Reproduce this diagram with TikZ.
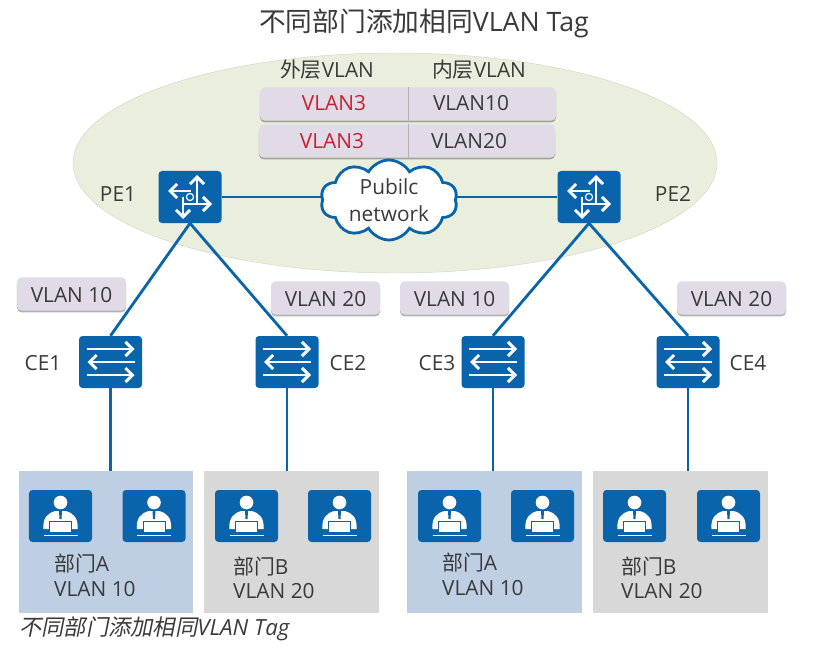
\documentclass[tikz,border=0pt]{standalone}
\usepackage{fontspec}
\usetikzlibrary{shapes.symbols,shadows,arrows.meta}
\setmainfont{Open Sans}
\newfontfamily\cjk{Noto Sans CJK SC}
\newfontfamily\cjkslant[FakeSlant=0.2]{Noto Sans CJK SC}
\definecolor{netblue}{HTML}{0A64AC}
\definecolor{txtgrey}{HTML}{3A3A3A}
\definecolor{tagpurple}{HTML}{E1DBE8}
\definecolor{vlanred}{HTML}{C8202F}
\definecolor{areagreen}{HTML}{EAEFDD}
\definecolor{deptblue}{HTML}{BFCFE3}
\definecolor{deptgrey}{HTML}{D8D8D8}
\tikzset{
    devbox/.style={fill=netblue, rounded corners=3pt, minimum width=1.89cm, minimum height=1.56cm, inner sep=0pt},
    hostbox/.style={devbox},
    link/.style={draw=netblue, line width=2.4pt},
    lbl/.style={text=txtgrey, font=\fontsize{17.8}{21}\selectfont, inner sep=0pt},
    lblleft/.style={lbl, align=left, anchor=west},
    tagbox/.style={lbl, fill=tagpurple, rounded corners=4pt, minimum width=3.27cm, minimum height=1cm, text height=15.5pt,
        drop shadow={shadow xshift=0pt, shadow yshift=-1.5pt, fill=black, opacity=.3}},
    rowbox/.style={tagbox, minimum width=8.88cm},
    deptbox/.style={minimum width=5.24cm, minimum height=4.26cm, inner sep=0pt},
    iconarrow/.style={draw=white, line width=2.5pt, -{Straight Barb[length=6pt,width=12pt,line width=2.5pt]}},
    routerpic/.pic={
        \draw[iconarrow] (7,0) -- (7,-22);
        \draw[iconarrow] (1,-6) -- (-22,-6);
        \draw[iconarrow] (-6,7) -- (22,7);
        \draw[iconarrow] (-7,0) -- (-7,22);
        \draw[white, line width=2.5pt] (-7,7) -- (-7,0) (7,-6) -- (7,7);
        \fill[white] (0,0) circle (4.2);
        \fill[netblue] (0,0) circle (2.8);
    },
    switchpic/.pic={
        \draw[iconarrow] (-24,-13) -- (24,-13);
        \draw[iconarrow] (24,0) -- (-23,0);
        \draw[iconarrow] (-24,13) -- (24,13);
    },
    userpic/.pic={
        \fill[white] (0,-13.5) circle (6.8);
        \fill[white] (-17,13) .. controls (-18,2) and (-13,-3) .. (-5,-5) -- (5,-5)
            .. controls (13,-3) and (18,2) .. (17,13) -- cycle;
        \fill[netblue] (-1.5,-5) -- (1.5,-5) -- (1,3) -- (-1,3) -- cycle;
        \draw[netblue, fill=white, line width=.8pt] (-11,5) rectangle (11,16);
        \draw[white, line width=.8pt] (-17,19.5) -- (17,19.5);
    },
}
\begin{document}
\begin{tikzpicture}[x=0.03cm, y=-0.03cm]
    \useasboundingbox[fill=white] (0,0) rectangle (825,655);

    % Backbone area
    \fill[fill=areagreen, draw=areagreen!90!black] (395,163) ellipse (322 and 110);

    % Title and caption
    \node[lbl, font=\fontsize{22.8}{27}\selectfont] (title) at (424,23) {\cjk 不同部门添加相同\rmfamily VLAN Tag};
    \node[lblleft, font=\fontsize{19}{23}\selectfont] (caption) at (19,629) {\cjkslant 不同部门添加相同\normalfont\itshape VLAN Tag};

    % Tag table
    \node[lbl] (outerHead) at (327,70) {\cjk 外层\rmfamily VLAN};
    \node[lbl] (innerHead) at (479,70) {\cjk 内层\rmfamily VLAN};
    \node[rowbox] (row1) at (408,104) {};
    \node[rowbox] (row2) at (407,141) {};
    \draw[gray!60] (row1.north -| 408,0) -- (row1.south -| 408,0);
    \draw[gray!60] (row2.north -| 408,0) -- (row2.south -| 408,0);
    \node[lbl, text=vlanred] (outer1) at (334,103) {VLAN3};
    \node[lbl] (inner1) at (471,103) {VLAN10};
    \node[lbl, text=vlanred] (outer2) at (332,141) {VLAN3};
    \node[lbl] (inner2) at (469,141) {VLAN20};

    % Departments
    \node[deptbox, fill=deptblue] (deptA1) at (106,542) {};
    \node[deptbox, fill=deptgrey] (deptB1) at (291.5,542) {};
    \node[deptbox, fill=deptblue] (deptA2) at (494.5,542) {};
    \node[deptbox, fill=deptgrey] (deptB2) at (680.5,542) {};

    % Devices
    \node[devbox] (pe1) at (190,197) {};
    \node[devbox] (pe2) at (589,197) {};
    \node[devbox] (ce1) at (110.5,362) {};
    \node[devbox] (ce2) at (287,362) {};
    \node[devbox] (ce3) at (493,362) {};
    \node[devbox] (ce4) at (688,362) {};
    \node[cloud, cloud puffs=10, cloud puff arc=120, aspect=1.7, draw=netblue, fill=white, line width=2.4pt,
        minimum width=4.1cm, minimum height=2.4cm, inner sep=0pt] (net) at (389,200) {};
    \node[lbl, align=center, font=\fontsize{17.8}{23}\selectfont] (netText) at (389,200) {Pubilc\\network};

    % Draw the links
    \draw[link] (pe1.east) -- (pe1.east -| net.west);
    \draw[link] (pe2.west) -- (pe2.west -| net.east);
    \draw[link] (pe1.south) -- (ce1.north);
    \draw[link] (pe1.south) -- (ce2.north);
    \draw[link] (pe2.south) -- (ce3.north);
    \draw[link] (pe2.south) -- (ce4.north);
    \draw[link] (ce1.south) -- (ce1.south |- deptA1.north);
    \draw[link] (ce2.south) -- (ce2.south |- deptB1.north);
    \draw[link] (ce3.south) -- (ce3.south |- deptA2.north);
    \draw[link] (ce4.south) -- (ce4.south |- deptB2.north);

    % Icons on the devices
    \foreach \dev in {pe1,pe2} \pic at (\dev) {routerpic};
    \foreach \dev in {ce1,ce2,ce3,ce4} \pic at (\dev) {switchpic};

    % Device labels
    \node[lbl] (pe1Lbl) at (118,194) {PE1};
    \node[lbl] (pe2Lbl) at (673,194) {PE2};
    \node[lbl] (ce1Lbl) at (43,363) {CE1};
    \node[lbl] (ce2Lbl) at (348,363) {CE2};
    \node[lbl] (ce3Lbl) at (437,363) {CE3};
    \node[lbl] (ce4Lbl) at (748,363) {CE4};

    % VLAN tags
    \node[tagbox] (tag1) at (71.5,294) {VLAN 10};
    \node[tagbox] (tag2) at (325.5,298) {VLAN 20};
    \node[tagbox] (tag3) at (454.5,298) {VLAN 10};
    \node[tagbox] (tag4) at (731.5,298) {VLAN 20};

    % Hosts
    \foreach \hx [count=\i] in {60.5,154,246.5,339.5,449.5,542.5,634.5,728.5} {
        \node[hostbox] (host\i) at (\hx,516) {};
        \pic at (host\i) {userpic};
    }

    % Department labels
    \node[lblleft] (deptA1Name) at (54,564) {\cjk 部门\rmfamily A};
    \node[lblleft] (deptA1Vlan) at (54,589) {VLAN 10};
    \node[lblleft] (deptB1Name) at (233,567) {\cjk 部门\rmfamily B};
    \node[lblleft] (deptB1Vlan) at (233,591) {VLAN 20};
    \node[lblleft] (deptA2Name) at (442,563) {\cjk 部门\rmfamily A};
    \node[lblleft] (deptA2Vlan) at (442,588) {VLAN 10};
    \node[lblleft] (deptB2Name) at (621,567) {\cjk 部门\rmfamily B};
    \node[lblleft] (deptB2Vlan) at (621,591) {VLAN 20};
\end{tikzpicture}
\end{document}
